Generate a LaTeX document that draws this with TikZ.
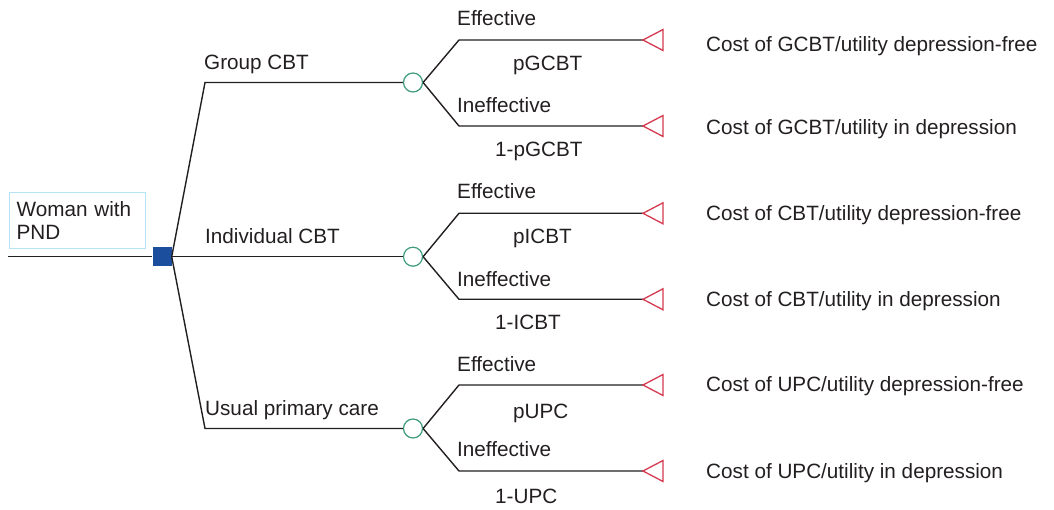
\documentclass[tikz,border=0pt]{standalone}
\usepackage{fontspec}
\setmainfont{Liberation Sans}
\begin{document}
\definecolor{ink}{HTML}{231F20}
\definecolor{decblue}{HTML}{1B4F9E}
\definecolor{chancegreen}{HTML}{3E9C7C}
\definecolor{termred}{HTML}{D43A4F}
\definecolor{boxblue}{HTML}{B5E2F5}
\begin{tikzpicture}[x=1pt,y=-1pt,
  every node/.style={font=\fontsize{20.7}{23.3}\selectfont, text=ink, inner sep=0pt},
  branch/.style={draw=ink, line width=1.4pt, line join=miter},
  decision/.style={draw=none, fill=decblue, minimum size=19pt, inner sep=0pt},
  chance/.style={circle, draw=chancegreen, fill=white, line width=1.2pt, minimum size=19pt, inner sep=0pt},
  terminal/.style={draw=termred, line width=1.3pt, line join=miter},
  lbl/.style={anchor=base west},
  titlebox/.style={draw=boxblue, line width=1.2pt, anchor=north west, align=left,
    minimum width=130pt, minimum height=56.6pt, text width=122pt, inner xsep=7pt, inner ysep=4pt}]
\useasboundingbox (0,0) rectangle (1054,510);

% root and decision node
\node[titlebox] (woman) at (9,191.7) {Woman with\\PND};
\coordinate (start) at (8,256.7);
\node[decision] (dec) at (162,256.7) {};

% chance nodes
\node[chance] (cA) at (413,82.5) {};
\node[chance] (cB) at (413,256.7) {};
\node[chance] (cC) at (413,428.5) {};

% bends of the decision branches
\coordinate (kA) at (205,82.5);
\coordinate (kC) at (205,428.5);

% bends of the chance branches and terminal tips
\foreach \g/\ya/\yb in {A/40/126, B/213.3/299.3, C/385/471}{
  \coordinate (e\g1) at (459,\ya);
  \coordinate (e\g2) at (459,\yb);
  \coordinate (t\g1) at (643,\ya);
  \coordinate (t\g2) at (643,\yb);
}

\draw[branch] (start) -- (dec.west);
\draw[branch] (dec.east) -- (kA) -- (cA.west);
\draw[branch] (dec.east) -- (cB.west);
\draw[branch] (dec.east) -- (kC) -- (cC.west);

\foreach \g in {A,B,C}{
  \draw[branch] (c\g.east) -- (e\g1) -- (t\g1);
  \draw[branch] (c\g.east) -- (e\g2) -- (t\g2);
  \draw[terminal] (t\g1) -- ++(20,-10.5) -- ++(0,21) -- cycle;
  \draw[terminal] (t\g2) -- ++(20,-10.5) -- ++(0,21) -- cycle;
}

% strategy labels
\node[lbl] (lA) at (204,69.5) {Group CBT};
\node[lbl] (lB) at (205,243.3) {Individual CBT};
\node[lbl] (lC) at (205,415) {Usual primary care};

% outcome labels
\node[lbl] (effA) at (457,26) {Effective};
\node[lbl] (ineA) at (457,112.7) {Ineffective};
\node[lbl] (effB) at (457,199) {Effective};
\node[lbl] (ineB) at (457,286.7) {Ineffective};
\node[lbl] (effC) at (457,371) {Effective};
\node[lbl] (ineC) at (457,456.7) {Ineffective};

% probabilities
\node[lbl] (pA) at (513,70.7) {pGCBT};
\node[lbl] (qA) at (495,156.7) {1-pGCBT};
\node[lbl] (pB) at (513,243.3) {pICBT};
\node[lbl] (qB) at (495,329.3) {1-ICBT};
\node[lbl] (pC) at (513,418.3) {pUPC};
\node[lbl] (qC) at (495,503.3) {1-UPC};

% payoffs
\node[lbl] (vA1) at (706,51.7) {Cost of GCBT/utility depression-free};
\node[lbl] (vA2) at (706,135) {Cost of GCBT/utility in depression};
\node[lbl] (vB1) at (706,221) {Cost of CBT/utility depression-free};
\node[lbl] (vB2) at (706,306.7) {Cost of CBT/utility in depression};
\node[lbl] (vC1) at (706,391.7) {Cost of UPC/utility depression-free};
\node[lbl] (vC2) at (706,478.3) {Cost of UPC/utility in depression};
\end{tikzpicture}
\end{document}
